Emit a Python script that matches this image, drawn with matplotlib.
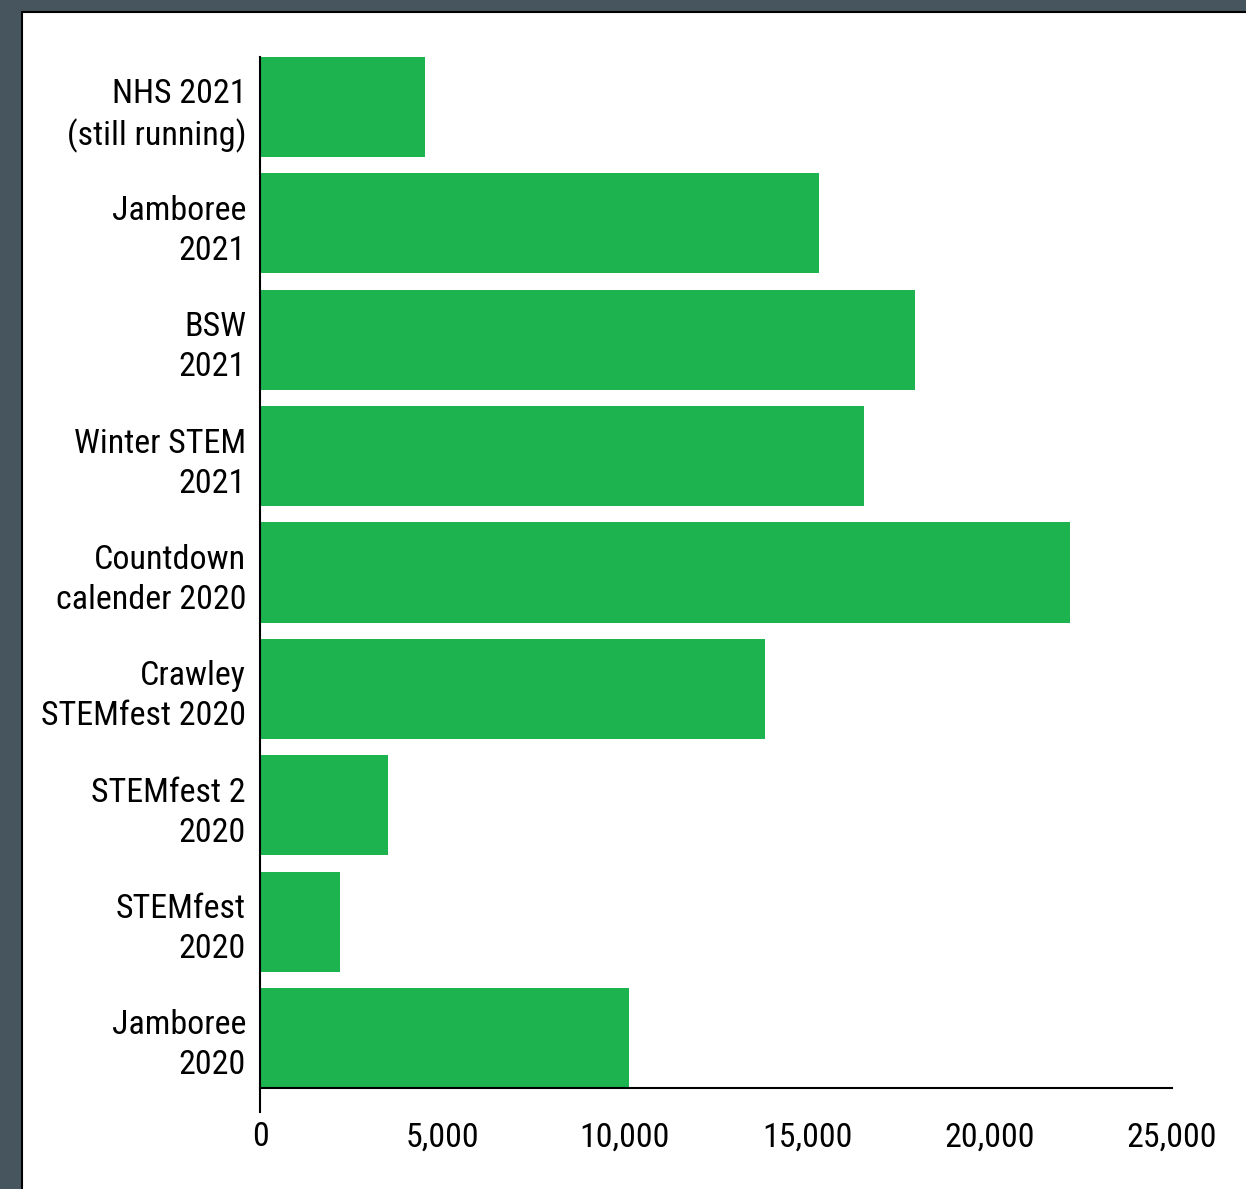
import matplotlib.pyplot as plt
from matplotlib.patches import Rectangle
from matplotlib.ticker import FuncFormatter

# events, top to bottom as in the chart
events = ['NHS 2021\n(still running)', 'Jamboree\n2021', 'BSW\n2021',
          'Winter STEM\n2021', 'Countdown\ncalender 2020', 'Crawley\nSTEMfest 2020',
          'STEMfest 2\n2020', 'STEMfest\n2020', 'Jamboree\n2020']
visits = [4520, 15320, 17950, 16560, 22200, 13840, 3510, 2190, 10120]
xticks = [0, 5000, 10000, 15000, 20000, 25000]

plt.rcParams['font.family'] = ['Roboto Condensed', 'DejaVu Sans']

W, H = 1246, 1189
fig = plt.figure(figsize=(W / 100, H / 100), dpi=100)
fig.patch.set_facecolor('#47555e')
# white panel with thin black frame
fig.patches.append(Rectangle((22 / W, -0.01), 1, 1.01 - 12 / H, transform=fig.transFigure,
                             facecolor='white', edgecolor='black', linewidth=1.5,
                             zorder=-5))

ax = fig.add_axes([260 / W, 101 / H, 912 / W, 1031 / H])
ax.set_facecolor('none')

pos = list(range(len(events)))[::-1]
ax.barh(pos, visits, height=0.86, color='#1db34f')

ax.set_xlim(0, 25000)
ax.set_ylim(-0.43, 8.43)
ax.set_yticks(pos)
ax.set_yticklabels(events, fontsize=24.5, linespacing=1.32)
ax.set_xticks(xticks)
ax.xaxis.set_major_formatter(FuncFormatter(lambda v, p: f'{int(v):,}'))
ax.tick_params(axis='x', length=0, pad=24, labelsize=24.5)
ax.tick_params(axis='y', length=0, pad=10)

for s in ['top', 'right']:
    ax.spines[s].set_visible(False)
for s in ['left', 'bottom']:
    ax.spines[s].set_linewidth(1.5)
# y axis line runs a little below the x axis, like a tick at 0
ax.spines['left'].set_bounds(-0.64, 8.43)

fig.savefig('out.png', dpi=100, facecolor=fig.get_facecolor())
